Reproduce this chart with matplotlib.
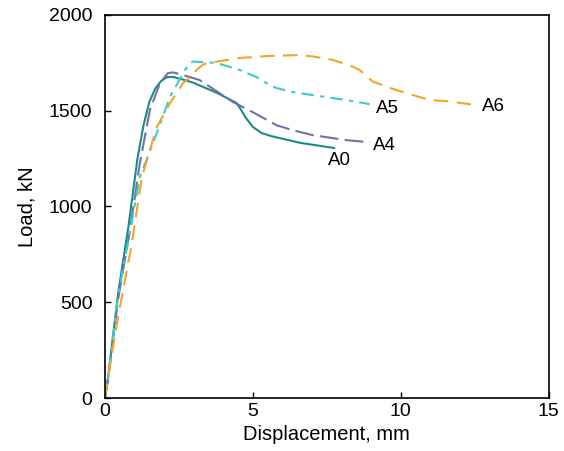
import matplotlib
matplotlib.use('Agg')
import matplotlib.pyplot as plt

plt.rcParams['font.family'] = ['Liberation Sans', 'DejaVu Sans']

# A0 - solid teal
a0_x = [0, 0.1, 0.45, 0.8, 1.1, 1.3, 1.5, 1.7, 1.9, 2.1, 2.3, 2.6, 3.0, 3.8, 4.45, 4.6, 4.75, 5.0, 5.3, 5.6, 6.6, 7.75]
a0_y = [0, 100, 550, 900, 1250, 1420, 1545, 1615, 1655, 1675, 1676, 1664, 1645, 1592, 1540, 1505, 1465, 1415, 1383, 1368, 1332, 1305]

# A4 - purple long dash
a4_x = [0, 0.1, 0.45, 0.85, 1.18, 1.52, 1.86, 2.13, 2.3, 2.64, 3.2, 4.33, 5.0, 5.8, 6.35, 7.03, 8.17, 8.95]
a4_y = [0, 90, 520, 880, 1225, 1503, 1644, 1696, 1700, 1686, 1660, 1545, 1492, 1424, 1398, 1372, 1346, 1335]

# A5 - turquoise dash-dot
a5_x = [0, 0.1, 0.45, 0.85, 1.18, 1.75, 2.2, 2.64, 2.85, 3.0, 3.2, 3.78, 4.56, 5.13, 5.5, 5.8, 6.35, 7.03, 8.17, 8.95]
a5_y = [0, 95, 540, 870, 1152, 1382, 1571, 1696, 1745, 1757, 1754, 1749, 1712, 1675, 1640, 1618, 1597, 1581, 1555, 1534]

# A6 - orange dash
a6_x = [0, 0.07, 0.44, 0.91, 1.25, 1.75, 2.2, 2.64, 2.87, 3.1, 3.31, 3.5, 3.78, 4.56, 5.47, 6.49, 7.03, 7.7, 8.3, 8.61, 8.85, 9.05, 9.86, 10.98, 11.55, 12.57]
a6_y = [0, 73, 419, 806, 1152, 1414, 1539, 1644, 1675, 1712, 1740, 1750, 1756, 1775, 1785, 1790, 1783, 1765, 1735, 1712, 1680, 1652, 1607, 1555, 1550, 1529]

labels = ['A0', 'A4', 'A5', 'A6']
label_pos = [(7.55, 1240), (9.05, 1320), (9.15, 1513), (12.75, 1524)]

fig = plt.figure(figsize=(5.64, 4.51), dpi=100)
ax = fig.add_axes([0.186, 0.1175, 0.787, 0.8495])

ax.plot(a0_x, a0_y, color='#1b8c84', lw=1.5, solid_capstyle='round')
ax.plot(a4_x, a4_y, color='#7270aa', lw=1.5, dashes=(9, 3))
ax.plot(a5_x, a5_y, color='#3ccccc', lw=1.5, dashes=(6, 3, 2, 3))
ax.plot(a6_x, a6_y, color='#f7a22a', lw=1.5, dashes=(7, 4))

for name, (tx, ty) in zip(labels, label_pos):
    ax.text(tx, ty, name, fontsize=13.5, ha='left', va='center')

ax.set_xlim(0, 15)
ax.set_ylim(0, 2000)
ax.set_xticks([0, 5, 10, 15])
ax.set_yticks([0, 500, 1000, 1500, 2000])
ax.tick_params(direction='in', length=4, labelsize=14, width=1)
ax.tick_params(axis='y', pad=9)
ax.set_xlabel('Displacement, mm', fontsize=14.5, labelpad=4)
ax.set_ylabel('Load, kN', fontsize=14.5, labelpad=9)
for s in ax.spines.values():
    s.set_linewidth(1.2)

plt.savefig('out.png', dpi=100)
